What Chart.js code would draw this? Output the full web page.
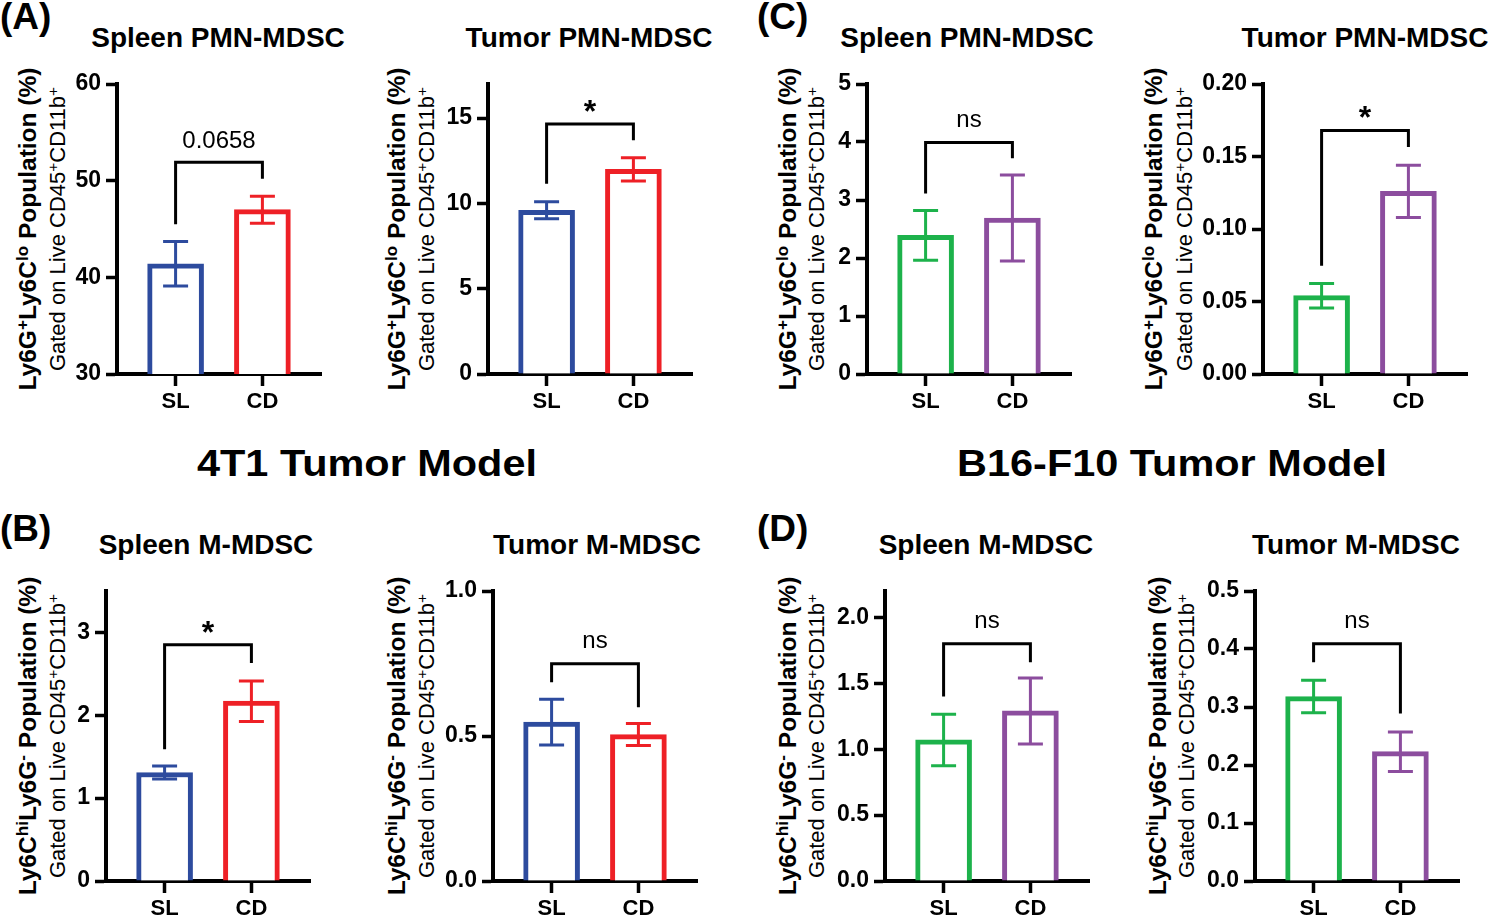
<!DOCTYPE html>
<html>
<head>
<meta charset="utf-8">
<script src="https://cdn.jsdelivr.net/npm/chart.js@4/dist/chart.umd.min.js"></script>
<style>
  body { margin: 0; background: #fff; }
  #page { position: relative; width: 1489px; height: 919px; overflow: hidden; background: #fff;
          font-family: "Liberation Sans", Arial, Helvetica, sans-serif; color: #000; }
  .abs { position: absolute; white-space: nowrap; line-height: 1; }
  .letter { font-size: 37px; font-weight: bold; }
  .title { font-size: 28px; font-weight: bold; transform: translateX(-50%); }
  .model { font-size: 37px; font-weight: bold; transform: translateX(-50%) scaleX(1.12); }
  .ylab1, .ylab2 { transform: translate(-50%, -50%) rotate(-90deg); }
  .ylab1 { font-size: 24.5px; font-weight: bold; }
  .ylab2 { font-size: 22px; }
  .sup { font-size: 0.7em; position: relative; top: -0.45em; }
  canvas { position: absolute; }
</style>
</head>
<body>
<div id="page"></div>
<script>
const categories = ['SL', 'CD'];
const colors4T1 = ['#2D4B9E', '#EE2026'];
const colorsB16 = ['#1DB24B', '#8C4D9E'];

// (A) 4T1 PMN-MDSC
const spleenPmn4T1Mean = [41.4, 47.0];
const spleenPmn4T1Sem = [2.3, 1.4];
const spleenPmn4T1Ticks = [30, 40, 50, 60];
const spleenPmn4T1TickLabels = ['30', '40', '50', '60'];
const spleenPmn4T1Bracket = [51.9, 45.5, 50.2]; // bar, left end, right end

const tumorPmn4T1Mean = [9.6, 12.0];
const tumorPmn4T1Sem = [0.5, 0.68];
const tumorPmn4T1Ticks = [0, 5, 10, 15];
const tumorPmn4T1TickLabels = ['0', '5', '10', '15'];
const tumorPmn4T1Bracket = [14.65, 11.15, 13.7];

// (B) 4T1 M-MDSC
const spleenM4T1Mean = [1.31, 2.17];
const spleenM4T1Sem = [0.078, 0.245];
const spleenM4T1Ticks = [0, 1, 2, 3];
const spleenM4T1TickLabels = ['0', '1', '2', '3'];
const spleenM4T1Bracket = [2.85, 1.59, 2.63];

const tumorM4T1Mean = [0.548, 0.505];
const tumorM4T1Sem = [0.079, 0.038];
const tumorM4T1Ticks = [0, 0.5, 1.0];
const tumorM4T1TickLabels = ['0.0', '0.5', '1.0'];
const tumorM4T1Bracket = [0.749, 0.685, 0.599];

// (C) B16-F10 PMN-MDSC
const spleenPmnB16Mean = [2.39, 2.69];
const spleenPmnB16Sem = [0.43, 0.74];
const spleenPmnB16Ticks = [0, 1, 2, 3, 4, 5];
const spleenPmnB16TickLabels = ['0', '1', '2', '3', '4', '5'];
const spleenPmnB16Bracket = [3.99, 3.11, 3.72];

const tumorPmnB16Mean = [0.054, 0.126];
const tumorPmnB16Sem = [0.0085, 0.018];
const tumorPmnB16Ticks = [0, 0.05, 0.10, 0.15, 0.20];
const tumorPmnB16TickLabels = ['0.00', '0.05', '0.10', '0.15', '0.20'];
const tumorPmnB16Bracket = [0.168, 0.0746, 0.1565];

// (D) B16-F10 M-MDSC
const spleenMB16Mean = [1.07, 1.29];
const spleenMB16Sem = [0.195, 0.25];
const spleenMB16Ticks = [0, 0.5, 1.0, 1.5, 2.0];
const spleenMB16TickLabels = ['0.0', '0.5', '1.0', '1.5', '2.0'];
const spleenMB16Bracket = [1.80, 1.40, 1.66];

const tumorMB16Mean = [0.318, 0.223];
const tumorMB16Sem = [0.028, 0.034];
const tumorMB16Ticks = [0, 0.1, 0.2, 0.3, 0.4, 0.5];
const tumorMB16TickLabels = ['0.0', '0.1', '0.2', '0.3', '0.4', '0.5'];
const tumorMB16Bracket = [0.409, 0.377, 0.289];

const pmnLabel = 'Ly6G<span class="sup">+</span>Ly6C<span class="sup">lo</span> Population (%)';
const mLabel = 'Ly6C<span class="sup">hi</span>Ly6G<span class="sup">-</span> Population (%)';
const gateLabel = 'Gated on Live CD45<span class="sup">+</span>CD11b<span class="sup">+</span>';

const panels = [
  { title: 'Spleen PMN-MDSC', mean: spleenPmn4T1Mean, sem: spleenPmn4T1Sem, ticks: spleenPmn4T1Ticks,
    tickLabels: spleenPmn4T1TickLabels, min: 30, max: 60, bracket: spleenPmn4T1Bracket, sig: '0.0658',
    colors: colors4T1, ax: 117, at: 83.5, tx: 218, ylab: pmnLabel, l1: 28, l2: 58 },
  { title: 'Tumor PMN-MDSC', mean: tumorPmn4T1Mean, sem: tumorPmn4T1Sem, ticks: tumorPmn4T1Ticks,
    tickLabels: tumorPmn4T1TickLabels, min: 0, max: 17, bracket: tumorPmn4T1Bracket, sig: '*',
    colors: colors4T1, ax: 488, at: 83.5, tx: 589, ylab: pmnLabel, l1: 397, l2: 427 },
  { title: 'Spleen PMN-MDSC', mean: spleenPmnB16Mean, sem: spleenPmnB16Sem, ticks: spleenPmnB16Ticks,
    tickLabels: spleenPmnB16TickLabels, min: 0, max: 5, bracket: spleenPmnB16Bracket, sig: 'ns',
    colors: colorsB16, ax: 867, at: 83.5, tx: 967, ylab: pmnLabel, l1: 788, l2: 817 },
  { title: 'Tumor PMN-MDSC', mean: tumorPmnB16Mean, sem: tumorPmnB16Sem, ticks: tumorPmnB16Ticks,
    tickLabels: tumorPmnB16TickLabels, min: 0, max: 0.2, bracket: tumorPmnB16Bracket, sig: '*',
    colors: colorsB16, ax: 1263, at: 83.5, tx: 1365, ylab: pmnLabel, l1: 1154, l2: 1185 },
  { title: 'Spleen M-MDSC', mean: spleenM4T1Mean, sem: spleenM4T1Sem, ticks: spleenM4T1Ticks,
    tickLabels: spleenM4T1TickLabels, min: 0, max: 3.5, bracket: spleenM4T1Bracket, sig: '*',
    colors: colors4T1, ax: 106, at: 591, tx: 206, ylab: mLabel, l1: 28, l2: 58 },
  { title: 'Tumor M-MDSC', mean: tumorM4T1Mean, sem: tumorM4T1Sem, ticks: tumorM4T1Ticks,
    tickLabels: tumorM4T1TickLabels, min: 0, max: 1.0, bracket: tumorM4T1Bracket, sig: 'ns',
    colors: colors4T1, ax: 493, at: 591, tx: 597, ylab: mLabel, l1: 397, l2: 427 },
  { title: 'Spleen M-MDSC', mean: spleenMB16Mean, sem: spleenMB16Sem, ticks: spleenMB16Ticks,
    tickLabels: spleenMB16TickLabels, min: 0, max: 2.2, bracket: spleenMB16Bracket, sig: 'ns',
    colors: colorsB16, ax: 885, at: 591, tx: 986, ylab: mLabel, l1: 788, l2: 817 },
  { title: 'Tumor M-MDSC', mean: tumorMB16Mean, sem: tumorMB16Sem, ticks: tumorMB16Ticks,
    tickLabels: tumorMB16TickLabels, min: 0, max: 0.5, bracket: tumorMB16Bracket, sig: 'ns',
    colors: colorsB16, ax: 1255, at: 591, tx: 1356, ylab: mLabel, l1: 1158, l2: 1187 }
];

const page = document.getElementById('page');
const FONT = '"Liberation Sans", Arial, Helvetica, sans-serif';

function addText(cls, html, left, top) {
  const d = document.createElement('div');
  d.className = 'abs ' + cls;
  d.innerHTML = html;
  d.style.left = left + 'px';
  d.style.top = top + 'px';
  page.appendChild(d);
}

// panel letters and model titles
addText('letter', '(A)', 0, 29 - 0.8465 * 37);
addText('letter', '(B)', 0, 541 - 0.8465 * 37);
addText('letter', '(C)', 757, 29 - 0.8465 * 37);
addText('letter', '(D)', 757, 541 - 0.8465 * 37);
addText('model', '4T1 Tumor Model', 367, 476 - 0.8465 * 37);
addText('model', 'B16-F10 Tumor Model', 1172, 476 - 0.8465 * 37);

// error bars + significance bracket, drawn through the chart's scales
function makeMarks(p) {
  return {
    id: 'marks',
    afterDatasetsDraw(chart) {
      const { ctx, scales: { x, y } } = chart;
      ctx.save();
      ctx.lineWidth = 3;
      p.mean.forEach((m, i) => {
        const cx = x.getPixelForValue(i + 1);
        const top = y.getPixelForValue(m + p.sem[i]);
        const bot = y.getPixelForValue(m - p.sem[i]);
        ctx.strokeStyle = p.colors[i];
        ctx.beginPath();
        ctx.moveTo(cx, top); ctx.lineTo(cx, bot);
        ctx.moveTo(cx - 12.5, top); ctx.lineTo(cx + 12.5, top);
        ctx.moveTo(cx - 12.5, bot); ctx.lineTo(cx + 12.5, bot);
        ctx.stroke();
      });
      const x1 = x.getPixelForValue(1), x2 = x.getPixelForValue(2);
      const yb = y.getPixelForValue(p.bracket[0]);
      ctx.strokeStyle = '#000';
      ctx.lineJoin = 'miter';
      ctx.beginPath();
      ctx.moveTo(x1, y.getPixelForValue(p.bracket[1]));
      ctx.lineTo(x1, yb);
      ctx.lineTo(x2, yb);
      ctx.lineTo(x2, y.getPixelForValue(p.bracket[2]));
      ctx.stroke();
      ctx.fillStyle = '#000';
      ctx.textAlign = 'center';
      ctx.textBaseline = 'alphabetic';
      if (p.sig === '*') {
        ctx.font = 'bold 32px ' + FONT;
        ctx.fillText(p.sig, (x1 + x2) / 2, yb - 2);
      } else if (p.sig === 'ns') {
        ctx.font = '24px ' + FONT;
        ctx.fillText(p.sig, (x1 + x2) / 2, yb - 16);
      } else {
        ctx.font = '24px ' + FONT;
        ctx.fillText(p.sig, (x1 + x2) / 2, yb - 14);
      }
      ctx.restore();
    }
  };
}

const YW = 70, XH = 50, PAD = 20, AW = 204, AH = 290;

panels.forEach((p) => {
  const row0 = p.at < 300;
  addText('title', p.title, p.tx, (row0 ? 48 : 555) - 0.8465 * 28);
  const cy = p.at + AH / 2;
  addText('ylab1', p.ylab, p.l1, cy);
  addText('ylab2', gateLabel, p.l2, cy);

  const canvas = document.createElement('canvas');
  canvas.width = YW + AW + PAD;
  canvas.height = PAD + AH + XH;
  canvas.style.left = (p.ax - YW) + 'px';
  canvas.style.top = (p.at - PAD) + 'px';
  page.appendChild(canvas);

  new Chart(canvas.getContext('2d'), {
    type: 'bar',
    data: {
      datasets: [{
        data: p.mean.map((m, i) => ({ x: i + 1, y: m })),
        backgroundColor: '#fff',
        borderColor: p.colors,
        borderWidth: 5,
        barThickness: 56,
        borderSkipped: 'start'
      }]
    },
    options: {
      responsive: false,
      animation: false,
      events: [],
      layout: { padding: { top: PAD, right: PAD, left: 0, bottom: 0 } },
      plugins: { legend: { display: false }, tooltip: { enabled: false } },
      scales: {
        x: {
          type: 'linear',
          min: 0.325,
          max: 2.675,
          offset: false,
          afterBuildTicks: (s) => { s.ticks = categories.map((c, i) => ({ value: i + 1 })); },
          afterFit: (s) => { s.height = XH; },
          border: { display: true, color: '#000', width: 4 },
          grid: { offset: false, drawOnChartArea: false, drawTicks: true, tickLength: 12, tickWidth: 3.5, tickColor: '#000' },
          ticks: {
            color: '#000', padding: 3, maxRotation: 0,
            font: { family: FONT, weight: 'bold', size: 22 },
            callback: (v) => categories[Math.round(v) - 1]
          }
        },
        y: {
          type: 'linear',
          min: p.min,
          max: p.max,
          afterBuildTicks: (s) => { s.ticks = p.ticks.map((v) => ({ value: v })); },
          afterFit: (s) => { s.width = YW; },
          border: { display: true, color: '#000', width: 4 },
          grid: { drawOnChartArea: false, drawTicks: true, tickLength: 11, tickWidth: 3.5, tickColor: '#000' },
          ticks: {
            color: '#000', padding: 5,
            font: { family: FONT, weight: 'bold', size: 23 },
            callback: (v) => p.tickLabels[p.ticks.indexOf(v)]
          }
        }
      }
    },
    plugins: [makeMarks(p)]
  });
});
</script>
</body>
</html>
